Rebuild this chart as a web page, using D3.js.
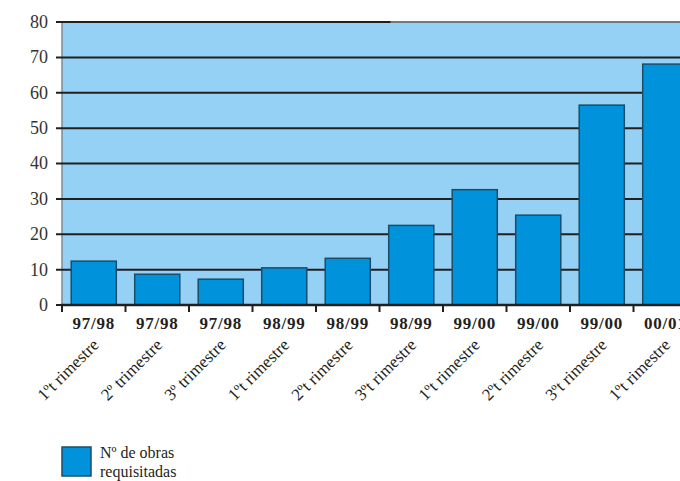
<!DOCTYPE html>
<html>
<head>
<meta charset="utf-8">
<script src="https://cdn.jsdelivr.net/npm/d3@7/dist/d3.min.js"></script>
<style>
  body { margin: 0; background: #fff; }
  svg { display: block; }
  svg text { font-family: "Liberation Serif", "DejaVu Serif", serif; }
</style>
</head>
<body>
<div id="chart"></div>
<script>
// data
var years = ["97/98", "97/98", "97/98", "98/99", "98/99", "98/99", "99/00", "99/00", "99/00", "00/01"];
var quarters = ["1ºt rimestre", "2º trimestre", "3º trimestre", "1ºt rimestre", "2ºt rimestre",
                "3ºt rimestre", "1ºt rimestre", "2ºt rimestre", "3ºt rimestre", "1ºt rimestre"];
var obras = [12.4, 8.7, 7.3, 10.5, 13.2, 22.5, 32.6, 25.4, 56.5, 68.1];
var yTicks = [0, 10, 20, 30, 40, 50, 60, 70, 80];
var legendLines = ["Nº de obras", "requisitadas"];

var width = 680, height = 481;
var plotLeft = 62, plotRight = 697, plotTop = 22, plotBottom = 305;
var ink = "#231f20";
var serif = "'Liberation Serif', 'DejaVu Serif', serif";

var svg = d3.select("#chart").append("svg")
    .attr("width", width)
    .attr("height", height);

var idx = d3.range(obras.length);

var x = d3.scaleBand()
    .domain(idx)
    .range([plotLeft, plotRight])
    .paddingInner(0.29)
    .paddingOuter(0.145);

var y = d3.scaleLinear()
    .domain([0, 80])
    .range([plotBottom, plotTop]);

var halfGap = x.step() * x.paddingInner() / 2;

// plot background
svg.append("rect")
    .attr("x", plotLeft)
    .attr("y", y(80))
    .attr("width", plotRight - plotLeft)
    .attr("height", y(0) - y(80))
    .attr("fill", "#95d0f5");

// left and top border (grey)
svg.append("line")
    .attr("x1", plotLeft).attr("x2", plotLeft)
    .attr("y1", y(80)).attr("y2", y(0))
    .attr("stroke", "#7d8b95").attr("stroke-width", 1.5);
svg.append("line")
    .attr("x1", plotLeft).attr("x2", plotRight)
    .attr("y1", y(80)).attr("y2", y(80))
    .attr("stroke", "#6f7a80").attr("stroke-width", 2);

// gridlines (the top one only runs part way, as in the original)
svg.selectAll(".grid")
    .data(yTicks.filter(function(d) { return d > 0; }))
    .enter().append("line")
    .attr("class", "grid")
    .attr("x1", plotLeft - 6)
    .attr("x2", function(d) { return d == 80 ? x(5) - halfGap + 11 : plotRight; })
    .attr("y1", function(d) { return y(d); })
    .attr("y2", function(d) { return y(d); })
    .attr("stroke", ink)
    .attr("stroke-width", 2);

// bars
svg.selectAll(".bar")
    .data(obras)
    .enter().append("rect")
    .attr("class", "bar")
    .attr("x", function(d, i) { return x(i); })
    .attr("width", x.bandwidth())
    .attr("y", function(d) { return y(d); })
    .attr("height", function(d) { return y(0) - y(d); })
    .attr("fill", "#0093dc")
    .attr("stroke", "#1b4d69")
    .attr("stroke-width", 1.5);

// y axis labels + ticks
svg.append("line")
    .attr("x1", plotLeft - 6).attr("x2", plotLeft)
    .attr("y1", y(0)).attr("y2", y(0))
    .attr("stroke", ink).attr("stroke-width", 2);

svg.selectAll(".ylab")
    .data(yTicks)
    .enter().append("text")
    .attr("class", "ylab")
    .attr("x", 48)
    .attr("y", function(d) { return y(d); })
    .attr("dy", "0.33em")
    .attr("text-anchor", "end")
    .attr("fill", "#333")
    .attr("font-family", serif)
    .style("font-size", "18px")
    .text(function(d) { return d; });

// x axis
svg.append("line")
    .attr("x1", plotLeft - 1).attr("x2", plotRight)
    .attr("y1", y(0)).attr("y2", y(0))
    .attr("stroke", ink).attr("stroke-width", 2.5);

svg.selectAll(".xtick")
    .data(idx)
    .enter().append("line")
    .attr("class", "xtick")
    .attr("x1", function(i) { return x(i) - halfGap; })
    .attr("x2", function(i) { return x(i) - halfGap; })
    .attr("y1", y(0))
    .attr("y2", y(0) + 7)
    .attr("stroke", ink)
    .attr("stroke-width", 2);

svg.selectAll(".year")
    .data(years)
    .enter().append("text")
    .attr("class", "year")
    .attr("x", function(d, i) { return x(i) + x.bandwidth() / 2; })
    .attr("y", 329)
    .attr("text-anchor", "middle")
    .attr("fill", ink)
    .attr("font-family", serif)
    .style("font-size", "17px")
    .style("font-weight", "bold")
    .style("letter-spacing", "0.8px")
    .text(function(d) { return d; });

svg.selectAll(".quarter")
    .data(quarters)
    .enter().append("text")
    .attr("class", "quarter")
    .attr("transform", function(d, i) {
        return "translate(" + (x(i) + x.bandwidth() / 2 + 6) + ",346) rotate(-45)";
    })
    .attr("text-anchor", "end")
    .attr("fill", ink)
    .attr("font-family", serif)
    .style("font-size", "17px")
    .text(function(d) { return d; });

// legend
svg.append("rect")
    .attr("x", 62).attr("y", 447)
    .attr("width", 29).attr("height", 29)
    .attr("fill", "#0093dc")
    .attr("stroke", "#1b4d69")
    .attr("stroke-width", 1.5);

svg.selectAll(".leg")
    .data(legendLines)
    .enter().append("text")
    .attr("class", "leg")
    .attr("x", 100)
    .attr("y", function(d, i) { return 458 + i * 18.5; })
    .attr("fill", ink)
    .attr("font-family", serif)
    .style("font-size", "16px")
    .text(function(d) { return d; });
</script>
</body>
</html>
